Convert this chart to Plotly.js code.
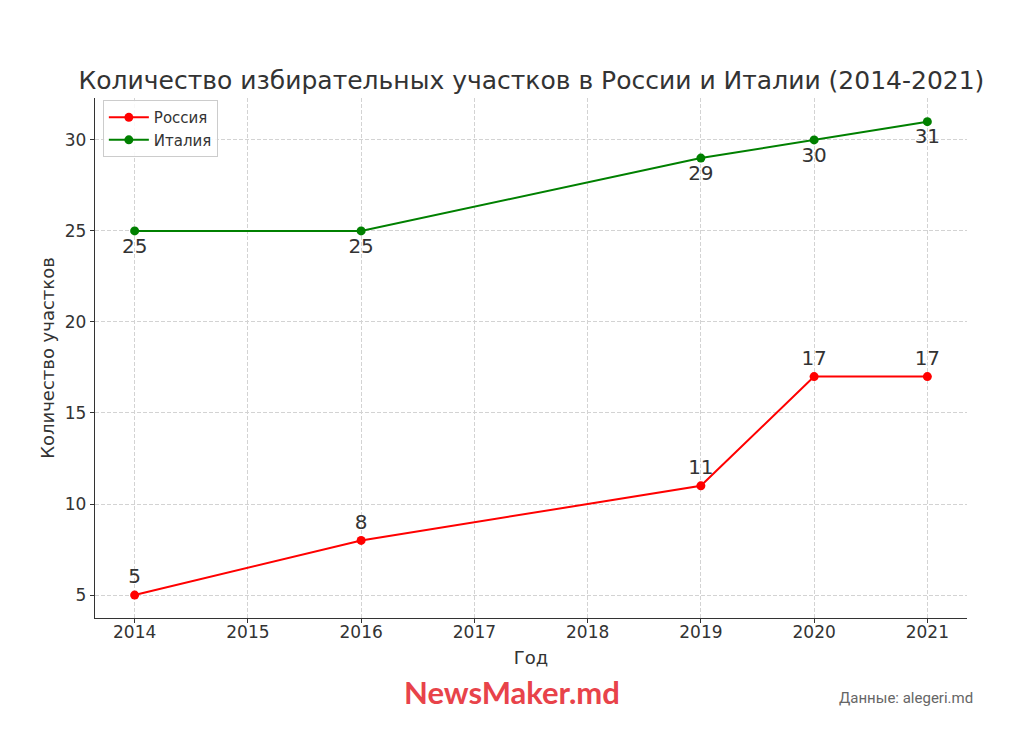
<!DOCTYPE html>
<html>
<head>
<meta charset="utf-8">
<script src="https://cdn.plot.ly/plotly-3.0.1.min.js"></script>
<style>html,body{margin:0;padding:0;background:#fff;}#chart{width:1024px;height:737px;}</style>
</head>
<body>
<div id="chart"></div>
<script>
const russiaYears = [2014, 2016, 2019, 2020, 2021];
const russiaValues = [5, 8, 11, 17, 17];
const italyYears = [2014, 2016, 2019, 2020, 2021];
const italyValues = [25, 25, 29, 30, 31];
const xTicks = [2014, 2015, 2016, 2017, 2018, 2019, 2020, 2021];
const yTicks = [5, 10, 15, 20, 25, 30];

const font = "DejaVu Sans, sans-serif";
const txt = "#333333";

const traces = [
  {
    x: russiaYears, y: russiaValues, name: "Россия",
    mode: "lines+markers+text", type: "scatter",
    line: {color: "#ff0000", width: 2}, marker: {color: "#ff0000", size: 9},
    text: russiaValues.map(String), textposition: "top center",
    textfont: {family: font, size: 20, color: txt}, cliponaxis: false
  },
  {
    x: italyYears, y: italyValues, name: "Италия",
    mode: "lines+markers+text", type: "scatter",
    line: {color: "#008000", width: 2}, marker: {color: "#008000", size: 9},
    text: italyValues.map(String), textposition: "bottom center",
    textfont: {family: font, size: 20, color: txt}, cliponaxis: false
  }
];

const layout = {
  width: 1024, height: 737,
  margin: {l: 95, r: 57, t: 98, b: 119},
  paper_bgcolor: "#fff", plot_bgcolor: "#fff",
  font: {family: font, color: txt},
  showlegend: true,
  title: {text: "Количество избирательных участков в России и Италии (2014-2021)",
    font: {family: font, size: 25, color: txt}, x: 0.519, xanchor: "center", y: 0.891, yanchor: "middle"},
  xaxis: {
    range: [2013.65, 2021.35], tickvals: xTicks, ticktext: xTicks.map(String),
    showgrid: true, gridcolor: "#d3d3d3", griddash: "4px,2px", gridwidth: 1,
    showline: true, linecolor: "#333", linewidth: 1.3, mirror: false,
    ticks: "outside", ticklen: 4, tickcolor: "#333", ticklabelstandoff: -6,
    tickfont: {family: font, size: 17, color: txt}, zeroline: false,
    title: {text: "Год", font: {family: font, size: 18, color: txt}, standoff: 10}
  },
  yaxis: {
    range: [3.74, 32.3], tickvals: yTicks, ticktext: yTicks.map(String),
    showgrid: true, gridcolor: "#d3d3d3", griddash: "4px,2px", gridwidth: 1,
    showline: true, linecolor: "#333", linewidth: 1.3, mirror: false,
    ticks: "outside", ticklen: 4, tickcolor: "#333",
    tickfont: {family: font, size: 17, color: txt}, zeroline: false,
    title: {text: "Количество участков", font: {family: font, size: 18, color: txt}, standoff: 5}
  },
  legend: {
    x: 0.009, y: 0.996, xanchor: "left", yanchor: "top",
    bgcolor: "rgba(255,255,255,0.85)", bordercolor: "#cccccc", borderwidth: 1,
    font: {family: font, size: 15, color: txt}, itemwidth: 40
  },
  annotations: [
    {text: "<b>NewsMaker.md</b>", xref: "paper", yref: "paper", x: 0.478, y: -0.142,
      xanchor: "center", yanchor: "middle", showarrow: false,
      font: {family: "Lato, sans-serif", size: 31, color: "#e8434a"}},
    {text: "Данные: alegeri.md", xref: "paper", yref: "paper", x: 1.009, y: -0.154,
      xanchor: "right", yanchor: "middle", showarrow: false,
      font: {family: "Roboto, sans-serif", size: 15, color: "#666"}}
  ]
};

Plotly.newPlot("chart", traces, layout, {displayModeBar: false, staticPlot: true});
</script>
</body>
</html>
